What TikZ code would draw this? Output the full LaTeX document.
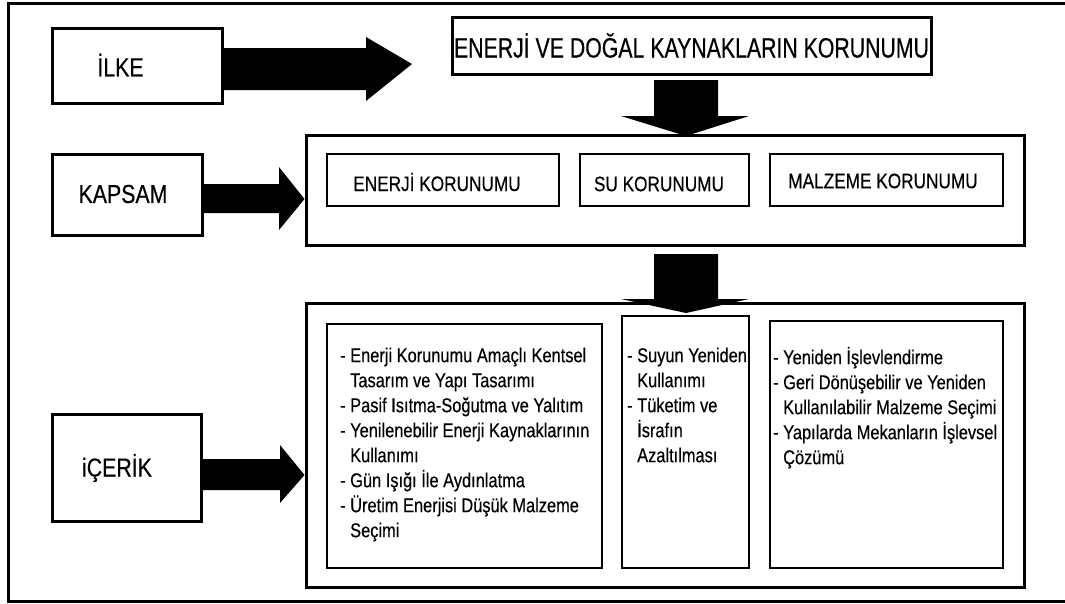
\documentclass[tikz,border=0pt]{standalone}
\usepackage{fontspec}
\setmainfont{Liberation Sans}[FakeStretch=0.82,FakeBold=0.35]
\newfontfamily\titlefont{Liberation Sans}[FakeStretch=0.76,FakeBold=0.35]
\begin{document}
\begin{tikzpicture}[x=1pt,y=-1pt,
  frame/.style={line width=3.5pt},
  bigbox/.style={draw, line width=3pt, inner sep=0pt},
  thinbox/.style={draw, line width=1.2pt, inner sep=0pt},
  fatarrow/.style={fill=black, draw=none},
  lbl/.style={font=\fontsize{26}{30}\selectfont, inner sep=0pt},
  klbl/.style={font=\fontsize{21}{25}\selectfont, inner sep=0pt},
  body/.style={font=\fontsize{20}{25}\selectfont, align=left, anchor=north west, inner sep=0pt}
]
\useasboundingbox (0,0) rectangle (1065,603);
\fill[white] (0,0) rectangle (1065,603);
% outer frame
\draw[frame] (1066,3.5) -- (8.5,3.5) -- (8.5,601.5) -- (1066,601.5);

% left label boxes
\node[bigbox, minimum width=170, minimum height=75] (ilke) at (137,65.5) {};
\node[bigbox, minimum width=150, minimum height=81] (kapsam) at (127,194.5) {};
\node[bigbox, minimum width=149, minimum height=107] (icerik) at (126.5,467.5) {};
\node[lbl] (ilket) at (120.5,65) {İLKE};
\node[lbl] (kapsamt) at (123,194) {KAPSAM};
\node[lbl] (icerikt) at (117,468) {iÇERİK};

% title box
\node[bigbox, minimum width=479, minimum height=57,
      font=\titlefont\fontsize{28}{30}\selectfont] (title) at (691.5,45.5)
      {ENERJİ VE DOĞAL KAYNAKLARIN KORUNUMU};

% kapsam big box and items
\node[bigbox, minimum width=718, minimum height=110] (upper) at (665,190) {};
\node[thinbox, minimum width=232, minimum height=52] (k1) at (443,180) {};
\node[thinbox, minimum width=169, minimum height=52] (k2) at (664.5,180) {};
\node[thinbox, minimum width=233, minimum height=52] (k3) at (886.5,180) {};
\node[klbl] (k1t) at (437,182) {ENERJİ KORUNUMU};
\node[klbl] (k2t) at (659,184) {SU KORUNUMU};
\node[klbl] (k3t) at (883,181) {MALZEME KORUNUMU};

% icerik big box and columns
\node[bigbox, minimum width=718, minimum height=284] (lower) at (665,445) {};
\node[thinbox, minimum width=275, minimum height=244] (c1) at (464.5,446) {};
\node[thinbox, minimum width=127, minimum height=252] (c2) at (685.5,442) {};
\node[thinbox, minimum width=233, minimum height=247] (c3) at (886.5,444.5) {};

\node[body] (c1t) at (340,344.5) {\strut- Enerji Korunumu Amaçlı Kentsel\\
\hphantom{-\ }Tasarım ve Yapı Tasarımı\\
- Pasif Isıtma-Soğutma ve Yalıtım\\
- Yenilenebilir Enerji Kaynaklarının\\
\hphantom{-\ }Kullanımı\\
- Gün Işığı İle Aydınlatma\\
- Üretim Enerjisi Düşük Malzeme\\
\hphantom{-\ }Seçimi};

\node[body] (c2t) at (627,344.5) {\strut- Suyun Yeniden\\
\hphantom{-\ }Kullanımı\\
- Tüketim ve\\
\hphantom{-\ }İsrafın\\
\hphantom{-\ }Azaltılması};

\node[body] (c3t) at (773,346.5) {\strut- Yeniden İşlevlendirme\\
- Geri Dönüşebilir ve Yeniden\\
\hphantom{-\ }Kullanılabilir Malzeme Seçimi\\
- Yapılarda Mekanların İşlevsel\\
\hphantom{-\ }Çözümü};

% fat arrows
\fill[fatarrow] (ilke.east |- 0,48) -- (366,48) -- (366,37) -- (412,64) -- (366,101) -- (366,90) -- (ilke.east |- 0,90) -- cycle;
\fill[fatarrow] (kapsam.east |- 0,184) -- (279,184) -- (279,167) -- (upper.west |- 0,199) -- (279,230) -- (279,213) -- (kapsam.east |- 0,213) -- cycle;
\fill[fatarrow] (icerik.east |- 0,459) -- (280,459) -- (280,445) -- (lower.west |- 0,475) -- (280,503) -- (280,490) -- (icerik.east |- 0,490) -- cycle;
\fill[fatarrow] (654,80) -- (718,80) -- (718,116) -- (749,116) -- (686,136) -- (621,116) -- (654,116) -- cycle;
\fill[fatarrow] (654,254) -- (718,254) -- (718,299) -- (749,299) -- (686,313) -- (621,299) -- (654,299) -- cycle;
\end{tikzpicture}
\end{document}
